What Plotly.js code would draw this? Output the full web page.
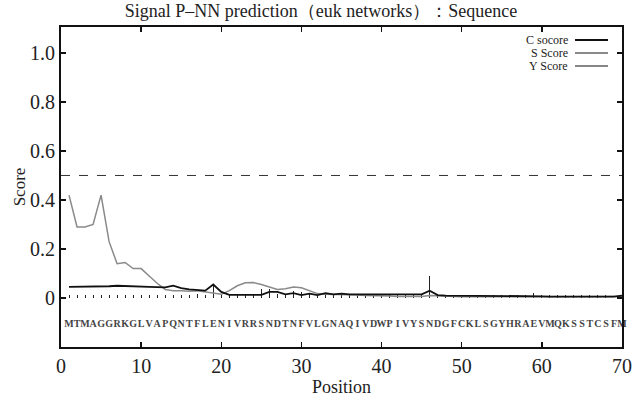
<!DOCTYPE html>
<html>
<head>
<meta charset="utf-8">
<script src="https://cdn.plot.ly/plotly-3.0.1.min.js"></script>
<style>html,body{margin:0;padding:0;background:#fff;}#chart{width:642px;height:402px;}</style>
</head>
<body>
<div id="chart"></div>
<script>
const sequence = "MTMAGGRKGLVAPQNTFLENIVRRSNDTNFVLGNAQIVDWPIVYSNDGFCKLSGYHRAEVMQKSSTCSFM".split("");
const positions = sequence.map((_, i) => i + 1);
const cScore = [0.012,0.012,0.012,0.012,0.012,0.012,0.012,0.012,0.012,0.012,
  0.012,0.012,0.012,0.012,0.012,0.012,0.015,0.012,0.057,0.012,
  0.012,0.012,0.012,0.012,0.035,0.035,0.015,0.018,0.028,0.025,
  0.015,0.012,0.02,0.012,0.015,0.012,0.012,0.012,0.012,0.012,
  0.012,0.012,0.012,0.012,0.012,0.09,0.012,0.012,0.012,0.012,
  0.012,0.012,0.012,0.012,0.012,0.012,0.012,0.012,0.02,0.014,
  0.014,0.014,0.014,0.014,0.014,0.014,0.014,0.014,0.014,0.014];
const sScore = [0.42,0.29,0.29,0.30,0.42,0.23,0.14,0.145,0.12,0.12,
  0.09,0.06,0.035,0.03,0.03,0.028,0.03,0.025,0.02,0.015,
  0.03,0.05,0.062,0.063,0.055,0.045,0.035,0.038,0.045,0.042,
  0.03,0.018,0.015,0.015,0.012,0.012,0.012,0.01,0.01,0.01,
  0.008,0.006,0.005,0.005,0.006,0.01,0.008,0.007,0.006,0.005,
  0.005,0.005,0.004,0.004,0.004,0.004,0.004,0.004,0.004,0.004,
  0.004,0.004,0.004,0.004,0.004,0.004,0.004,0.004,0.004,0.006];
const yScore = [0.045,0.045,0.046,0.047,0.047,0.048,0.05,0.048,0.047,0.046,
  0.045,0.044,0.043,0.05,0.04,0.035,0.033,0.03,0.055,0.025,
  0.013,0.013,0.013,0.013,0.013,0.025,0.025,0.015,0.02,0.012,
  0.018,0.012,0.02,0.015,0.018,0.015,0.015,0.013,0.013,0.013,
  0.013,0.013,0.013,0.013,0.015,0.03,0.012,0.01,0.01,0.01,
  0.008,0.008,0.008,0.008,0.008,0.008,0.008,0.008,0.007,0.007,
  0.006,0.006,0.006,0.006,0.006,0.006,0.006,0.006,0.006,0.01];
const threshold = 0.5;
const yTickVals = [0, 0.2, 0.4, 0.6, 0.8, 1.0];
const yTickText = ["0", "0.2", "0.4", "0.6", "0.8", "1.0"];
const xTickVals = [0, 10, 20, 30, 40, 50, 60, 70];
const legendNames = ["C socore", "S Score", "Y Score"];
const seqLabelY = -0.108;

const serif = "Liberation Serif";

const traces = [
  {type: "bar", x: positions, y: cScore, width: 0.12, marker: {color: "#222", line: {width: 0}}, showlegend: false, hoverinfo: "skip"},
  {type: "scatter", mode: "lines", x: positions, y: sScore, line: {color: "#8a8a8a", width: 1.5}, showlegend: false},
  {type: "scatter", mode: "lines", x: positions, y: yScore, line: {color: "#111", width: 1.8}, showlegend: false},
  {type: "scatter", mode: "lines", x: [0, 70], y: [threshold, threshold], line: {color: "#333", width: 1, dash: "dash"}, showlegend: false},
  {type: "scatter", mode: "text", x: positions, y: positions.map(() => seqLabelY), text: sequence,
   textfont: {family: serif, size: 10, color: "#444", weight: "bold"}, showlegend: false, hoverinfo: "skip", cliponaxis: false}
];

const legendY = [40, 53, 66];
const legendColors = ["#111", "#8a8a8a", "#111"];
const legendWidths = [2, 2, 1.2];
const annotations = [];
const shapes = [];
legendNames.forEach((n, i) => {
  const yPaper = 1 - (legendY[i] - 27) / 320;
  annotations.push({xref: "paper", yref: "paper", x: (570 - 61) / 561, y: yPaper, xanchor: "right", yanchor: "middle",
    text: n, showarrow: false, font: {family: serif, size: 12, color: "#222"}});
  shapes.push({type: "line", xref: "paper", yref: "paper", x0: (575 - 61) / 561, x1: (608 - 61) / 561, y0: yPaper, y1: yPaper,
    line: {color: legendColors[i], width: legendWidths[i]}});
});

const layout = {
  width: 642, height: 402,
  margin: {l: 61, r: 20, t: 27, b: 55},
  paper_bgcolor: "#fff", plot_bgcolor: "#fff",
  title: {text: "Signal P–NN prediction（euk networks）：Sequence", font: {family: serif, size: 18, color: "#222"}, x: 0.5, xanchor: "center", y: 0.99, yanchor: "top"},
  font: {family: serif, color: "#222"},
  bargap: 0,
  xaxis: {range: [0, 70], tickvals: xTickVals, ticks: "inside", ticklen: 5, tickwidth: 1.5, tickcolor: "#111",
    showline: true, linecolor: "#111", linewidth: 2, mirror: "ticks", showgrid: false, zeroline: false,
    tickfont: {family: serif, size: 20, color: "#222"},
    title: {text: "Position", font: {family: serif, size: 18, color: "#222"}, standoff: 4}},
  yaxis: {range: [-0.2, 1.106], tickvals: yTickVals, ticktext: yTickText, ticks: "inside", ticklen: 5, tickwidth: 1.5, tickcolor: "#111",
    showline: true, linecolor: "#111", linewidth: 2, mirror: "ticks", showgrid: false, zeroline: false,
    tickfont: {family: serif, size: 20, color: "#222"},
    title: {text: "Score", font: {family: serif, size: 17, color: "#222"}, standoff: 0}},
  annotations: annotations,
  shapes: shapes
};

Plotly.newPlot("chart", traces, layout, {staticPlot: true, displayModeBar: false});
</script>
</body>
</html>
